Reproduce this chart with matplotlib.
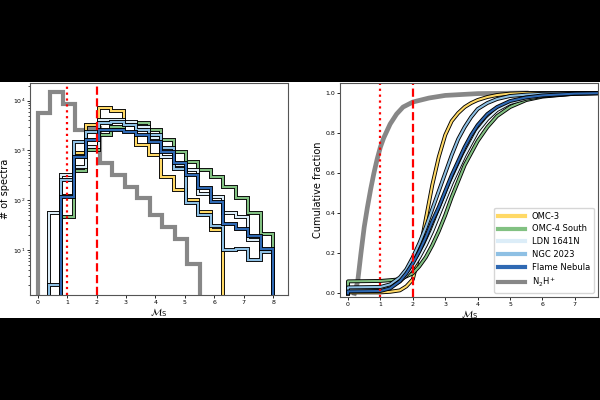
import matplotlib
matplotlib.use('Agg')
import matplotlib.pyplot as plt
import matplotlib.patheffects as pe
from matplotlib.lines import Line2D
from matplotlib.patches import Rectangle
import numpy as np

names = ['OMC-3', 'OMC-4 South', 'LDN 1641N', 'NGC 2023', 'Flame Nebula']
colors = ['#ffd966', '#82c182', '#dcedf8', '#8ec0e4', '#2f69b3']
n2h_label = 'N$_2$H$^+$'
n2h_color = '#878787'

# histogram bins (left panel)
edges = np.linspace(0.38, 8.0, 19)
n2h_edges = np.linspace(0.0, 5.5, 14)

omc3_counts = [0, 120, 900, 3200, 7000, 6300, 3500, 1300, 810, 295, 160, 100, 59, 25, 0, 0, 0, 0]
omc4_counts = [0, 47, 380, 1000, 2000, 2900, 3300, 3500, 2580, 1620, 945, 590, 410, 297, 187, 110, 55, 21]
ldn_counts = [55, 320, 470, 1200, 4100, 4100, 3800, 3000, 1750, 750, 515, 400, 137, 118, 55, 47, 16, 10]
ngc_counts = [2, 250, 1500, 2400, 3500, 3800, 3250, 2580, 2050, 1100, 430, 87, 50, 30, 10, 10.5, 6.3, 9.3]
flame_counts = [0, 118, 750, 1620, 2630, 2560, 2390, 2050, 1500, 945, 550, 325, 175, 94, 33, 26, 19.5, 10.7]
n2h_counts = [5700, 14700, 8450, 2630, 2800, 570, 320, 185, 112, 50, 29, 17, 5.3]

# cumulative fractions (right panel)
cdf_x = [0, 0, 1.0, 1.3, 1.6, 1.8, 2.0, 2.2, 2.4, 2.6, 2.8, 3.0, 3.2, 3.4, 3.6, 3.8, 4.0, 4.3, 4.6, 5.0, 5.5, 6.0, 7.0, 8.0]
omc3_cdf = [0, 0.005, 0.005, 0.008, 0.015, 0.035, 0.07, 0.2, 0.37, 0.54, 0.68, 0.79, 0.86, 0.9, 0.93, 0.95, 0.965, 0.98, 0.99, 0.997, 1.0, 1.0, 1.0, 1.0]
omc4_cdf = [0, 0.06, 0.062, 0.066, 0.07, 0.085, 0.1, 0.135, 0.18, 0.24, 0.31, 0.39, 0.48, 0.56, 0.64, 0.7, 0.76, 0.83, 0.885, 0.93, 0.965, 0.982, 0.997, 1.0]
ldn_cdf = [0, 0.02, 0.022, 0.035, 0.06, 0.09, 0.13, 0.18, 0.24, 0.31, 0.39, 0.47, 0.55, 0.62, 0.69, 0.75, 0.81, 0.87, 0.915, 0.95, 0.972, 0.985, 0.996, 1.0]
ngc_cdf = [0, 0.03, 0.032, 0.045, 0.08, 0.12, 0.18, 0.25, 0.33, 0.42, 0.51, 0.6, 0.69, 0.77, 0.83, 0.88, 0.92, 0.95, 0.97, 0.985, 0.992, 0.996, 0.999, 1.0]
flame_cdf = [0, 0.01, 0.012, 0.025, 0.06, 0.1, 0.15, 0.21, 0.28, 0.36, 0.43, 0.51, 0.59, 0.66, 0.73, 0.79, 0.84, 0.895, 0.93, 0.96, 0.978, 0.988, 0.997, 1.0]
n2h_x = [0.2, 0.3, 0.4, 0.5, 0.6, 0.7, 0.8, 0.9, 1.0, 1.1, 1.2, 1.3, 1.5, 1.7, 2.0, 2.5, 3.0, 4.0, 5.5]
n2h_cdf = [0, 0.06, 0.2, 0.33, 0.43, 0.52, 0.6, 0.67, 0.73, 0.775, 0.81, 0.845, 0.895, 0.93, 0.955, 0.975, 0.988, 0.997, 1.0]

counts = [omc3_counts, omc4_counts, ldn_counts, ngc_counts, flame_counts]
cdfs = [omc3_cdf, omc4_cdf, ldn_cdf, ngc_cdf, flame_cdf]

outline = [pe.Stroke(linewidth=2.8, foreground='black'), pe.Normal()]

fig = plt.figure(figsize=(6, 4), dpi=100, facecolor='black')
fig.patches.append(Rectangle((0, 0.205), 1, 0.59, transform=fig.transFigure,
                             facecolor='white', edgecolor='none', zorder=-10))

ax1 = fig.add_axes([0.05, 0.2625, 0.43, 0.53])
ax2 = fig.add_axes([0.567, 0.2575, 0.43, 0.535])

# left: histograms
ax1.stairs(n2h_counts, n2h_edges, color=n2h_color, lw=3.0)
for c, col in zip(counts, colors):
    ax1.stairs(c, edges, color=col, lw=1.5, path_effects=outline)
ax1.axvline(1, color='red', ls=':', lw=1.6)
ax1.axvline(2, color='red', ls='--', lw=1.6)
ax1.set_yscale('log')
ax1.set_xlim(-0.26, 8.5)
ax1.set_ylim(1.26, 2.26e4)
ax1.set_xticks(range(0, 9))
ax1.set_ylabel('# of spectra', fontsize=7, labelpad=2)
ax1.set_xlabel(r'$\mathcal{M}_{\rm S}$', fontsize=7, labelpad=1)

# right: cumulative fractions
ax2.plot(n2h_x, n2h_cdf, color=n2h_color, lw=3.4)
for c, col in zip(cdfs, colors):
    ax2.plot(cdf_x, c, color=col, lw=1.5, path_effects=outline)
ax2.axvline(1, color='red', ls=':', lw=1.6)
ax2.axvline(2, color='red', ls='--', lw=1.6)
ax2.set_xlim(-0.24, 7.72)
ax2.set_ylim(-0.018, 1.05)
ax2.set_xticks(range(0, 8))
ax2.set_ylabel('Cumulative fraction', fontsize=7, labelpad=2)
ax2.set_xlabel(r'$\mathcal{M}_{\rm S}$', fontsize=7, labelpad=1)

handles = [Line2D([], [], color=col, lw=3) for col in colors]
handles.append(Line2D([], [], color=n2h_color, lw=3))
ax2.legend(handles, names + [n2h_label], loc='lower right', fontsize=6,
           handlelength=3.2, labelspacing=0.45, borderpad=0.5)

for ax in (ax1, ax2):
    ax.tick_params(labelsize=4.5, length=2, width=0.6, pad=1.5)
    ax.tick_params(which='minor', length=1.2, width=0.5)
    for s in ax.spines.values():
        s.set_color('#555555')

fig.savefig('out.png', dpi=100, facecolor=fig.get_facecolor())
